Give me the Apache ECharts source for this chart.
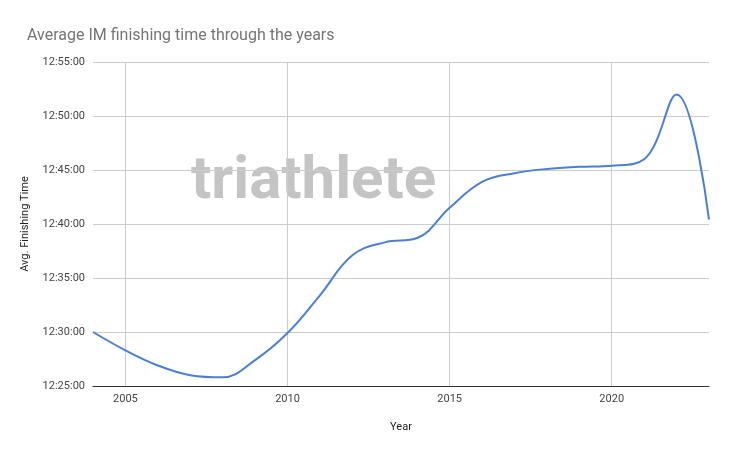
<!DOCTYPE html>
<html>
<head>
<meta charset="utf-8">
<script src="https://cdn.jsdelivr.net/npm/echarts@6/dist/echarts.min.js"></script>
<style>html,body{margin:0;padding:0;background:#fff}#chart{width:730px;height:452px}</style>
</head>
<body>
<div id="chart"></div>
<script>
var years = [2004, 2005, 2006, 2007, 2008, 2009, 2010, 2011, 2012, 2013, 2014, 2015, 2016, 2017, 2018, 2019, 2020, 2021, 2022, 2023];
// minutes past 12:00
var avgMinutes = [30, 28.3, 26.9, 26.0, 25.8, 27.4, 29.9, 33.4, 37.1, 38.3, 38.7, 41.5, 43.9, 44.7, 45.1, 45.3, 45.4, 46.0, 52.0, 40.4];

var chart = echarts.init(document.getElementById('chart'));
function showYear(i, v) { return Number(v) % 5 === 0; }
chart.setOption({
    animation: false,
    title: {
        text: 'Average IM finishing time through the years',
        left: 22, top: 23,
        textStyle: { color: '#757575', fontSize: 16, fontWeight: 'normal', fontFamily: 'Roboto' }
    },
    graphic: [{
        type: 'text', left: 191, top: 153, z: 0,
        style: { text: 'triathlete', fontSize: 60, fontWeight: 'bold', fontFamily: 'Roboto', fill: '#c4c4c4' }
    }],
    grid: { left: 93, right: 21, top: 62, bottom: 66 },
    xAxis: {
        type: 'category', boundaryGap: false,
        data: years.map(String),
        name: 'Year', nameLocation: 'middle', nameGap: 36,
        nameTextStyle: { color: '#222', fontSize: 11, fontFamily: 'Roboto' },
        axisLine: { lineStyle: { color: '#333' } },
        axisTick: { show: false },
        axisLabel: { interval: showYear, color: '#444', fontSize: 11, fontFamily: 'Roboto' },
        splitLine: { show: true, interval: showYear, lineStyle: { color: '#ccc' } }
    },
    yAxis: {
        type: 'value', min: 25, max: 55, interval: 5,
        name: 'Avg. Finishing Time', nameLocation: 'middle', nameGap: 62,
        nameTextStyle: { color: '#222', fontSize: 11, fontFamily: 'Roboto' },
        axisLabel: {
            color: '#444', fontSize: 11, fontFamily: 'Roboto',
            formatter: function (v) { return '12:' + (v < 10 ? '0' : '') + v + ':00'; }
        },
        splitLine: { lineStyle: { color: '#ccc' } }
    },
    series: [{
        type: 'line', data: avgMinutes, smooth: 0.4, showSymbol: false, z: 5,
        lineStyle: { color: '#4a7fd8', width: 2 }
    }]
});
</script>
</body>
</html>
